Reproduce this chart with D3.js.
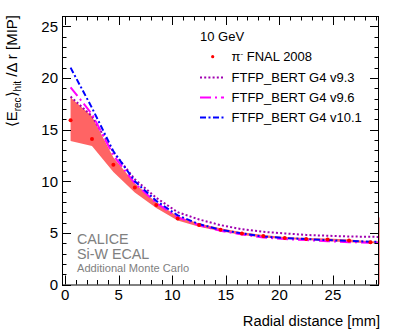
<!DOCTYPE html>
<html lang="en">
<head>
<meta charset="UTF-8">
<title>CALICE radial profile</title>
<script src="https://cdn.jsdelivr.net/npm/d3@7"></script>
<style>
  body{margin:0;background:#fff;}
  svg{display:block;font-family:"Liberation Sans",Arial,sans-serif;}
</style>
</head>
<body>
<div id="draw"></div>
<script>
// radial distance [mm] of the data points
var dataX = [0.5, 2.5, 4.5, 6.5, 8.5, 10.5, 12.5, 14.5, 16.5, 18.5, 20.5, 22.5, 24.5, 26.5, 28.5];
var dataY = [15.9, 14.1, 11.6, 9.4, 7.7, 6.4, 5.75, 5.3, 4.95, 4.7, 4.5, 4.4, 4.35, 4.25, 4.1];
// systematic band
var bandX  = [0.5, 2.5, 4.5, 6.5, 8.5, 10.5, 12.5, 14.5, 16.5, 18.5, 20.5, 22.5, 24.5, 26.5, 28.5, 29.5];
var bandLo = [13.9, 13.4, 10.9, 8.9, 7.4, 6.2, 5.6, 5.15, 4.8, 4.55, 4.4, 4.3, 4.2, 4.1, 4.0, 3.95];
var bandHi = [18.1, 16.3, 12.3, 9.8, 7.95, 6.6, 5.9, 5.45, 5.05, 4.8, 4.6, 4.5, 4.45, 4.35, 4.2, 4.2];
// simulations
var mcX   = [0.5, 2.5, 4.5, 6.5, 8.5, 10.5, 12.5, 14.5, 16.5, 18.5, 20.5, 22.5, 24.5, 26.5, 28.5, 29.5];
var g493  = [18.2, 16.3, 12.8, 10.2, 8.4, 7.0, 6.3, 5.75, 5.35, 5.1, 4.95, 4.8, 4.72, 4.65, 4.62, 4.6];
var g496  = [19.1, 16.5, 12.5, 9.8, 7.9, 6.5, 5.75, 5.2, 4.85, 4.55, 4.4, 4.3, 4.2, 4.1, 4.05, 4.02];
var g4101 = [21.0, 17.1, 12.9, 10.0, 8.1, 6.7, 5.85, 5.3, 4.95, 4.65, 4.5, 4.4, 4.3, 4.22, 4.15, 4.12];

var xTicks = [0, 5, 10, 15, 20, 25];
var yTicks = [0, 5, 10, 15, 20, 25];
var legendRows = ["FTFP_BERT G4 v9.3", "FTFP_BERT G4 v9.6", "FTFP_BERT G4 v10.1"];

var w = 399, h = 331;
var L = 62, R = 379, T = 16, B = 284.5;

var svg = d3.select("#draw").append("svg").attr("width", w).attr("height", h);

var x = d3.scaleLinear().domain([-0.3, 29.3]).range([L, R]);
var y = d3.scaleLinear().domain([0, 26]).range([B, T]);

svg.append("defs").append("clipPath").attr("id", "plotclip")
  .append("rect").attr("x", L).attr("y", T).attr("width", R - L).attr("height", B - T);

var plot = svg.append("g").attr("clip-path", "url(#plotclip)");

// band
var area = d3.area()
  .x(function(d, i){ return x(bandX[i]); })
  .y0(function(d, i){ return y(bandLo[i]); })
  .y1(function(d, i){ return y(bandHi[i]); });
plot.append("path").datum(bandX).attr("d", area).attr("fill", "#ff6464");

// right edge of the band
svg.append("line").attr("x1", R).attr("x2", R).attr("y1", y(6.5)).attr("y2", B)
  .attr("stroke", "#ff8080").attr("stroke-width", 1.5);

// MC curves
var styles = [
  {v: g493,  c: "#a000b0", dash: "2,2.2"},
  {v: g496,  c: "#ff00ff", dash: "11,4,2,4"},
  {v: g4101, c: "#0000ff", dash: "6,2.5,2,2.5"}
];
var line = d3.line().x(function(d, i){ return x(mcX[i]); }).y(function(d){ return y(d); });
styles.forEach(function(s){
  plot.append("path").datum(s.v).attr("d", line)
    .attr("fill", "none").attr("stroke", s.c).attr("stroke-width", 2)
    .attr("stroke-dasharray", s.dash);
});

// data points
plot.selectAll("circle.pt").data(dataX).enter().append("circle")
  .attr("class", "pt")
  .attr("cx", function(d){ return x(d); })
  .attr("cy", function(d, i){ return y(dataY[i]); })
  .attr("r", 2).attr("fill", "#ff0000");

// frame
svg.append("rect").attr("x", L + 0.5).attr("y", T + 0.5).attr("width", R - L - 1).attr("height", B - T)
  .attr("fill", "none").attr("stroke", "#000").attr("stroke-width", 1);

// ticks
var tk = svg.append("g").attr("stroke", "#000").attr("stroke-width", 1);
d3.range(0, 30, 1).forEach(function(v){
  var len = v % 5 === 0 ? 9 : 4.5;
  var px = Math.round(x(v)) + 0.5;
  tk.append("line").attr("x1", px).attr("x2", px).attr("y1", B).attr("y2", B - len);
  tk.append("line").attr("x1", px).attr("x2", px).attr("y1", T).attr("y2", T + len);
});
d3.range(0, 26, 1).forEach(function(v){
  var len = v % 5 === 0 ? 9 : 4.5;
  var py = Math.round(y(v)) + 0.5;
  tk.append("line").attr("x1", L).attr("x2", L + len).attr("y1", py).attr("y2", py);
  tk.append("line").attr("x1", R).attr("x2", R - len).attr("y1", py).attr("y2", py);
});

// tick labels
svg.selectAll("text.xl").data(xTicks).enter().append("text")
  .attr("class", "xl").attr("x", function(d){ return x(d); }).attr("y", 300)
  .attr("text-anchor", "middle").attr("font-size", 15).text(function(d){ return d; });
svg.selectAll("text.yl").data(yTicks).enter().append("text")
  .attr("class", "yl").attr("x", 58).attr("y", function(d){ return y(d) + 5.5; })
  .attr("text-anchor", "end").attr("font-size", 15).text(function(d){ return d; });

// axis titles
svg.append("text").attr("x", 380).attr("y", 326).attr("text-anchor", "end")
  .attr("font-size", 14.7).text("Radial distance [mm]");

var yt = svg.append("text").attr("transform", "translate(17,15) rotate(-90)")
  .attr("text-anchor", "end").attr("font-size", 15);
yt.append("tspan").text("\u27E8E");
yt.append("tspan").attr("font-size", 10).attr("dy", 4).text("rec");
yt.append("tspan").attr("dy", -4).text("\u27E9");
yt.append("tspan").attr("font-size", 10).attr("dy", 4).text("hit");
yt.append("tspan").attr("dy", -4).text(" /\u0394 r [MIP]");

// legend
var lg = svg.append("g").attr("font-size", 13);
lg.append("text").attr("x", 200).attr("y", 40.5).text("10 GeV");
lg.append("circle").attr("cx", 212.7).attr("cy", 56.7).attr("r", 1.6).attr("fill", "#ff0000");
var pi = lg.append("text").attr("x", 231.5).attr("y", 61);
pi.append("tspan").text("\u03C0");
pi.append("tspan").attr("font-size", 8).attr("dy", -5).text("-");
pi.append("tspan").attr("dy", 5).text(" FNAL 2008");
legendRows.forEach(function(t, i){
  var by = 82 + i * 20;
  lg.append("line").attr("x1", 200).attr("x2", 224).attr("y1", by - 4.5).attr("y2", by - 4.5)
    .attr("stroke", styles[i].c).attr("stroke-width", 2).attr("stroke-dasharray", styles[i].dash);
  lg.append("text").attr("x", 231.5).attr("y", by).text(t);
});

// experiment label
var lab = svg.append("g").attr("fill", "#808080");
lab.append("text").attr("x", 77).attr("y", 244).attr("font-size", 14.3).text("CALICE");
lab.append("text").attr("x", 77).attr("y", 259).attr("font-size", 14.3).text("Si-W ECAL");
lab.append("text").attr("x", 77).attr("y", 271.5).attr("font-size", 11.1).text("Additional Monte Carlo");
</script>
</body>
</html>
